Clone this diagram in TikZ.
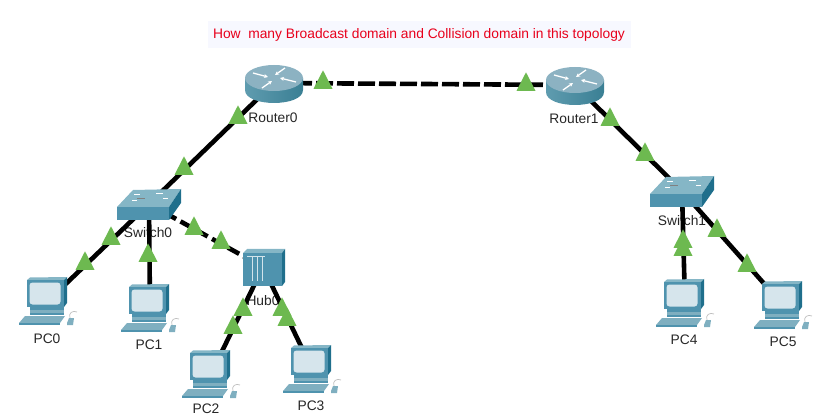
\documentclass[tikz,border=0pt]{standalone}
\usepackage{fontspec}
\setmainfont{Liberation Sans}
\usetikzlibrary{shapes.geometric,arrows.meta}
\definecolor{tribg}{HTML}{6DB950}
\definecolor{titlebg}{HTML}{F7F8FF}
\definecolor{titlered}{HTML}{E8001C}
\definecolor{devtop}{HTML}{85B6C6}
\definecolor{devfront}{HTML}{4F93AE}
\definecolor{devside}{HTML}{1F6F8C}
\definecolor{devscreen}{HTML}{D6E5EC}
\definecolor{rtop}{HTML}{8CB2C2}
\definecolor{rleft}{HTML}{5F9CAF}
\definecolor{rmid}{HTML}{DDEDF2}
\definecolor{rright}{HTML}{3A7F94}
\definecolor{kbd}{HTML}{7FAFC0}
\tikzset{
  device/.style={inner sep=0pt,minimum size=2pt,draw=none},
  devlabel/.style={inner sep=0pt,font=\fontsize{13.8}{15}\selectfont,text=black!85},
  wire/.style={draw=black,line width=4.6pt},
  wiredash/.style={wire,dash pattern=on 17pt off 4pt},
  wiredashb/.style={wire,dash pattern=on 13pt off 5pt},
  linkup/.style={isosceles triangle,isosceles triangle stretches,shape border rotate=90,
    minimum width=19pt,minimum height=18.5pt,inner sep=0pt,fill=tribg,draw=none},
  rarrow/.style={draw=white,line width=1.3pt,-{Stealth[length=4pt,width=4pt]}}
}
\newcommand{\pcicon}[1]{%
\begin{scope}[shift={(#1.center)}]
  \fill[devtop] (-21,-21)--(-18,-23.5)--(19,-24)--(16,-21)--cycle;
  \fill[devside] (16,-21)--(19,-24)--(19,2)--(16,6)--cycle;
  \fill[devfront] (-21,-21) rectangle (16,6);
  \fill[devscreen,rounded corners=3pt] (-18.5,-18.5) rectangle (12.5,3.5);
  \fill[devfront] (-18,6) rectangle (16,9);
  \fill[kbd] (-18,9) rectangle (16,11.5);
  \fill[devfront] (-18,11.5) rectangle (16,14);
  \fill[kbd] (-29,22)--(-23,15)--(17,15)--(12,22)--cycle;
  \fill[devfront] (-29,22) rectangle (12,23.5);
  \draw[black!25,line width=.7pt] (22,17) .. controls (20,12) and (25,9) .. (29,11);
  \fill[kbd] (19,22)--(21,17)--(26,17)--(25,24)--(19,24)--cycle;
\end{scope}}
\newcommand{\routericon}[1]{%
\begin{scope}[shift={(#1.center)}]
  \shade[left color=rleft,middle color=rmid,right color=rright]
    (-29,-5)--(-29,7) .. controls (-29,24.3) and (29,24.3) .. (29,7)--(29,-5)--cycle;
  \fill[rtop] (0,-5) ellipse [x radius=29,y radius=13];
  \draw[rarrow] (-21,-10)--(-6,-6);
  \draw[rarrow] (22,-1)--(6,-5);
  \draw[rarrow] (11,-15)--(1,-8);
  \draw[rarrow] (-12,5)--(-2,-2);
\end{scope}}
\newcommand{\switchicon}[1]{%
\begin{scope}[shift={(#1.center)}]
  \fill[devtop] (-32,3)--(-16,-14)--(32,-15)--(20,3)--cycle;
  \fill[devfront] (-32,3) rectangle (20,16);
  \fill[devside] (20,3)--(32,-15)--(32,-1)--(20,16)--cycle;
  \draw[white,line width=1pt] (-15,-9)--(-9,-9) (7,-10)--(14,-10) (-17,-3)--(-12,-3) (14,-5)--(19,-5);
  \draw[black!50,line width=.6pt] (-12,-6)--(-4,-6);
\end{scope}}
\newcommand{\hubicon}[1]{%
\begin{scope}[shift={(#1.center)}]
  \fill[devtop] (-20,-14)--(-16,-18)--(22,-18)--(19,-14)--cycle;
  \fill[devside] (19,-14)--(22,-18)--(22,15)--(19,19)--cycle;
  \fill[devfront] (-20,-14) rectangle (19,19);
  \draw[white!75!devfront,line width=.7pt] (-16,-11)--(2,-11) (-11,-10)--(-11,14) (-6,-10)--(-6,14) (-1,-10)--(-1,14);
\end{scope}}
\begin{document}
\begin{tikzpicture}[x=1pt,y=-1pt]
\useasboundingbox (0,0) rectangle (823,417);
% title
\fill[titlebg] (208,21) rectangle (631,48);
\node[inner sep=0pt,text=titlered,font=\fontsize{13.8}{15}\selectfont] (title) at (419,35) {How\ \ many Broadcast domain and Collision domain in this topology};
% device anchors
\node[device] (R0) at (274,83) {};
\node[device] (R1) at (575,85) {};
\node[device] (S0) at (149,204) {};
\node[device] (S1) at (682,191) {};
\node[device] (H0) at (263,267) {};
\node[device] (P0) at (48,301) {};
\node[device] (P1) at (150,308) {};
\node[device] (P2) at (211,374) {};
\node[device] (P3) at (312,369) {};
\node[device] (P4) at (685,303) {};
\node[device] (P5) at (783,305) {};
% labels
\node[devlabel] (lR0) at (273,118) {Router0};
\node[devlabel] (lR1) at (574,119) {Router1};
\node[devlabel] (lS0) at (148,233) {Switch0};
\node[devlabel] (lS1) at (682,221) {Switch1};
\node[devlabel] (lH0) at (263,301) {Hub0};
\node[devlabel] (lP0) at (47,339) {PC0};
\node[devlabel] (lP1) at (149,345) {PC1};
\node[devlabel] (lP2) at (206,408.5) {PC2};
\node[devlabel] (lP3) at (311,406) {PC3};
\node[devlabel] (lP4) at (684,340) {PC4};
\node[devlabel] (lP5) at (783,342) {PC5};
% connectors
\draw[wiredash] (R0.center)--(R1.center);
\draw[wire] (R0.center)--(S0.center);
\draw[wire] (R1.center)--(S1.center);
\draw[wire] (S0.center)--(P0.center);
\draw[wire] (S0.center)--(P1.center);
\draw[wiredashb] (S0.center)--(H0.center);
\draw[wire] (H0.center)--(P2.center);
\draw[wire] (H0.center)--(P3.center);
\draw[wire] (S1.center)--(P4.center);
\draw[wire] (S1.center)--(P5.center);
% link lights
\node[linkup] (t1) at (323,83) {};
\node[linkup] (t2) at (526,85) {};
\node[linkup] (t3) at (238,118) {};
\node[linkup] (t4) at (184,169) {};
\node[linkup] (t5) at (610,120) {};
\node[linkup] (t6) at (645,155) {};
\node[linkup] (t7) at (111,239) {};
\node[linkup] (t8) at (85,264) {};
\node[linkup] (t9) at (148,256) {};
\node[linkup] (t10) at (194,229) {};
\node[linkup] (t11) at (221,243) {};
\node[linkup] (t12) at (243,310) {};
\node[linkup] (t13) at (233,328) {};
\node[linkup] (t14) at (282,310) {};
\node[linkup] (t15) at (287,320) {};
\node[linkup] (t16) at (683,242) {};
\node[linkup] (t17) at (683,250) {};
\node[linkup] (t18) at (717,231) {};
\node[linkup] (t19) at (747,266) {};
% icons
\routericon{R0}\routericon{R1}
\switchicon{S0}\switchicon{S1}
\hubicon{H0}
\pcicon{P0}\pcicon{P1}\pcicon{P2}\pcicon{P3}\pcicon{P4}\pcicon{P5}
\end{tikzpicture}
\end{document}
